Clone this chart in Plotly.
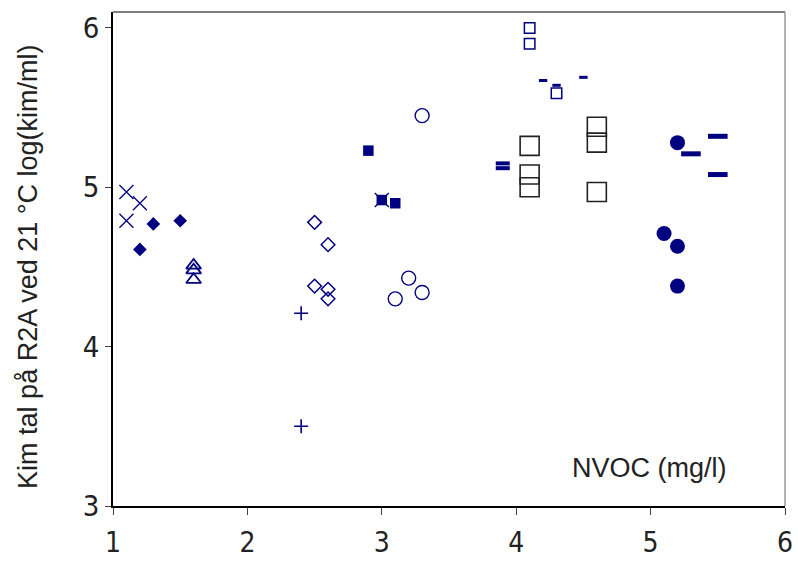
import plotly.graph_objects as go

NAVY = "#000080"

# Data
x_cross = [1.1, 1.2, 1.1, 3.0]
y_cross = [4.97, 4.90, 4.79, 4.92]

x_fdiam = [1.3, 1.5, 1.2]
y_fdiam = [4.77, 4.79, 4.61]

x_tri = [1.6, 1.6, 1.6]
y_tri = [4.51, 4.48, 4.42]

x_odiam = [2.5, 2.6, 2.5, 2.6, 2.6]
y_odiam = [4.78, 4.64, 4.38, 4.36, 4.30]

x_plus = [2.4, 2.4]
y_plus = [4.21, 3.50]

x_fsq = [2.9, 3.0, 3.1]
y_fsq = [5.23, 4.92, 4.90]

x_ocirc = [3.3, 3.2, 3.1, 3.3]
y_ocirc = [5.45, 4.43, 4.30, 4.34]

x_ssq = [4.1, 4.1, 4.3]
y_ssq = [6.00, 5.90, 5.59]

x_sdash = [4.2, 4.3, 4.5]
y_sdash = [5.67, 5.64, 5.69]

x_mdash = [3.9, 3.9]
y_mdash = [5.15, 5.12]

x_bsq = [4.1, 4.1, 4.1, 4.6, 4.6, 4.6]
y_bsq = [5.26, 5.08, 5.00, 5.38, 5.28, 4.97]

x_ldash = [5.5, 5.3, 5.5]
y_ldash = [5.32, 5.21, 5.08]

x_fcirc = [5.2, 5.1, 5.2, 5.2]
y_fcirc = [5.28, 4.71, 4.63, 4.38]

x_ticks = [1, 2, 3, 4, 5, 6]
y_ticks = [3, 4, 5, 6]

fig = go.Figure()

def add(xs, ys, symbol, size, color=NAVY, lw=1.0, lc=None):
    fig.add_trace(go.Scatter(
        x=xs, y=ys, mode="markers",
        marker=dict(symbol=symbol, size=size, color=color,
                    line=dict(width=lw, color=lc or color)),
        showlegend=False, hoverinfo="skip"))

add(x_cross, y_cross, "x-thin", 14, lw=1.3)
add(x_fdiam, y_fdiam, "diamond", 10.5, lw=0)
add(x_tri, y_tri, "triangle-up-open", 13, lw=1.8)
add(x_odiam, y_odiam, "diamond-open", 10.5, lw=1.5)
add(x_plus, y_plus, "cross-thin", 10, lw=1.6)
add(x_fsq, y_fsq, "square", 10.5, lw=0)
add(x_ocirc, y_ocirc, "circle-open", 14, lw=1.4)
add(x_ssq, y_ssq, "square-open", 10.5, lw=1.5)
add(x_sdash, y_sdash, "line-ew", 6, lw=3)
add(x_mdash, y_mdash, "line-ew", 10, lw=4)
add(x_bsq, y_bsq, "square-open", 19, color="#222222", lw=1.6)
add(x_ldash, y_ldash, "line-ew", 14, lw=5)
add(x_fcirc, y_fcirc, "circle", 15, lw=0)

tick_font = dict(family="Liberation Sans Narrow, DejaVu Sans Condensed, sans-serif",
                 size=29, color="#222222")
xtick_font = dict(tick_font, size=28)

fig.update_layout(
    width=798, height=562,
    margin=dict(l=113, r=13, t=12, b=56),
    paper_bgcolor="white", plot_bgcolor="white",
    xaxis=dict(range=[1, 6], tickvals=x_ticks, ticktext=[str(v) for v in x_ticks],
               showgrid=False, zeroline=False, showline=True, linecolor="black",
               linewidth=1.5, ticks="outside", ticklen=7, tickcolor="#444",
               tickfont=xtick_font, ticklabelstandoff=4, automargin=False),
    yaxis=dict(range=[3, 6.1], tickvals=y_ticks, ticktext=[str(v) for v in y_ticks],
               showgrid=False, zeroline=False, showline=True, linecolor="black",
               linewidth=1.5, ticks="outside", ticklen=6, tickcolor="#444",
               tickfont=tick_font, ticklabelstandoff=0, automargin=False),
    shapes=[
        dict(type="line", xref="paper", yref="paper", x0=0, x1=1, y0=1, y1=1,
             line=dict(color="#555555", width=1.5)),
        dict(type="line", xref="paper", yref="paper", x0=1, x1=1, y0=0, y1=1,
             line=dict(color="#999999", width=1.5)),
    ],
    annotations=[
        dict(text="Kim tal på R2A ved 21 °C log(kim/ml)", xref="paper", yref="paper",
             x=0, y=0.484, xanchor="center", yanchor="middle", xshift=-85,
             textangle=-90, showarrow=False,
             font=dict(family="Liberation Sans, Arial, sans-serif", size=27, color="#222222")),
        dict(text="NVOC (mg/l)", xref="x", yref="y", x=4.995, y=3.24,
             xanchor="center", yanchor="middle", showarrow=False,
             font=dict(family="Liberation Sans, Arial, sans-serif", size=27, color="#222222")),
    ],
)

fig.write_html("out.html")
